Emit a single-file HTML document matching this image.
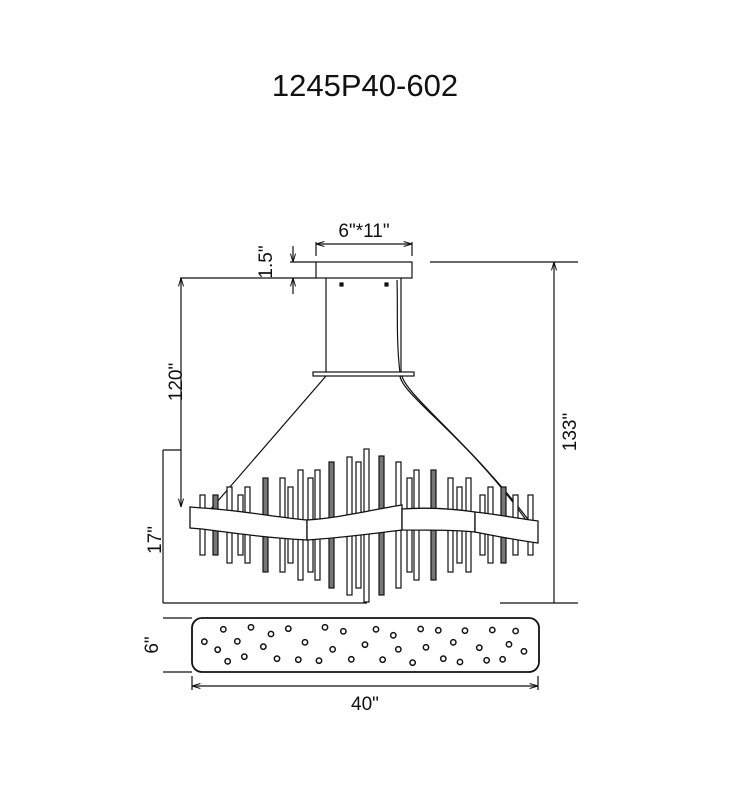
<!DOCTYPE html>
<html><head><meta charset="utf-8"><style>
html,body{margin:0;padding:0;background:#fff;}
svg{display:block;}
text{font-family:"Liberation Sans",Arial,sans-serif;fill:#111;}
</style></head><body>
<svg width="730" height="800" viewBox="0 0 730 800" xmlns="http://www.w3.org/2000/svg">
<defs>
<marker id="a" viewBox="0 0 10 10" refX="10" refY="5" markerWidth="7" markerHeight="7" orient="auto-start-reverse"><path d="M0,2 L10,5 L0,8" fill="none" stroke="#111" stroke-width="1.2"/></marker>
</defs>
<text x="365" y="96" font-size="31" text-anchor="middle">1245P40-602</text>

<g stroke="#111" stroke-width="1.2" fill="none">
<rect x="316" y="262" width="96" height="16" fill="#fff"/>
<rect x="340" y="283" width="3" height="3" fill="#111"/>
<rect x="385" y="283" width="3" height="3" fill="#111"/>
<line x1="326" y1="278" x2="326" y2="373"/>
<line x1="401" y1="278" x2="401" y2="373"/>
<path d="M397,280 C398,310 396,340 400,373" />
<rect x="313" y="372" width="101" height="4" fill="#fff"/>
<line x1="326" y1="376" x2="210" y2="510"/>
<path d="M400,376 C402,395 470,440 526,520"/>
<path d="M402,376 C406,395 472,445 530,522"/>

<line x1="316" y1="242" x2="316" y2="256"/>
<line x1="412" y1="242" x2="412" y2="256"/>
<line x1="316" y1="244" x2="412" y2="244" marker-start="url(#a)" marker-end="url(#a)"/>
<line x1="290" y1="262" x2="316" y2="262"/>
<line x1="293" y1="246" x2="293" y2="262" marker-end="url(#a)"/>
<line x1="293" y1="294" x2="293" y2="278" marker-end="url(#a)"/>
<line x1="180" y1="278" x2="316" y2="278"/>
<line x1="430" y1="262" x2="578" y2="262"/>
<line x1="554" y1="603" x2="554" y2="262" marker-end="url(#a)"/>
<line x1="181" y1="278" x2="181" y2="507" marker-start="url(#a)" marker-end="url(#a)"/>
<line x1="163" y1="450" x2="181" y2="450"/>
<line x1="163" y1="450" x2="163" y2="603"/>
<line x1="163" y1="603" x2="367" y2="603"/>
<line x1="500" y1="603" x2="578" y2="603"/>
</g>
<text transform="translate(272,262) rotate(-90)" font-size="19" text-anchor="middle">1.5"</text>
<text x="364" y="237" font-size="19" text-anchor="middle">6"*11"</text>
<text transform="translate(182,382) rotate(-90)" font-size="19" text-anchor="middle">120"</text>
<text transform="translate(576,432) rotate(-90)" font-size="19" text-anchor="middle">133"</text>
<text transform="translate(161,540) rotate(-90)" font-size="19" text-anchor="middle">17"</text>

<g stroke="#111" stroke-width="1.2" fill="#fff">
<rect x="200" y="495" width="5" height="60"/>
<rect x="213" y="495" width="5" height="60" fill="#777"/>
<rect x="227" y="487" width="5" height="76"/>
<rect x="238" y="495" width="5" height="60"/>
<rect x="245" y="487" width="5" height="76"/>
<rect x="263" y="478" width="5" height="94" fill="#777"/>
<rect x="280" y="478" width="5" height="94"/>
<rect x="288" y="487" width="5" height="76"/>
<rect x="298" y="470" width="5" height="110"/>
<rect x="308" y="478" width="5" height="94"/>
<rect x="315" y="470" width="5" height="110"/>
<rect x="329" y="462" width="5" height="126" fill="#777"/>
<rect x="347" y="457" width="5" height="138"/>
<rect x="356" y="462" width="5" height="126"/>
<rect x="364" y="449" width="5" height="153"/>
<rect x="379" y="456" width="5" height="139" fill="#777"/>
<rect x="396" y="462" width="5" height="126"/>
<rect x="407" y="478" width="5" height="94"/>
<rect x="414" y="470" width="5" height="110"/>
<rect x="431" y="470" width="5" height="110" fill="#777"/>
<rect x="448" y="478" width="5" height="94"/>
<rect x="457" y="487" width="5" height="76"/>
<rect x="466" y="478" width="5" height="94"/>
<rect x="480" y="495" width="5" height="60"/>
<rect x="488" y="487" width="5" height="76"/>
<rect x="501" y="487" width="5" height="76" fill="#777"/>
<rect x="513" y="495" width="5" height="60"/>
<rect x="528" y="495" width="5" height="60"/>
</g>
<g stroke="#111" stroke-width="1.3" fill="#fff">
<path d="M190,507 L202,508 C240,510 280,518 307,520 L307,540 C270,538 240,534 202,529 L190,528 Z"/>
<path d="M307,520 C340,518 370,510 402,505 L402,530 C370,534 340,538 307,540 Z"/>
<path d="M402,509 C430,507 455,509 475,512 L475,532 C455,530 430,530 402,530 Z"/>
<path d="M475,512 C495,514 515,518 538,521 L538,543 C515,540 495,536 475,532 Z"/>
</g>

<g stroke="#111" stroke-width="1.2" fill="none">
<rect x="192" y="618" width="347" height="54" rx="10" stroke-width="1.8"/>
<line x1="163" y1="618" x2="192" y2="618"/>
<line x1="163" y1="672" x2="192" y2="672"/>
<line x1="192" y1="676" x2="192" y2="690"/>
<line x1="538" y1="676" x2="538" y2="690"/>
<line x1="192" y1="686" x2="538" y2="686" marker-start="url(#a)" marker-end="url(#a)"/>
</g>
<text transform="translate(158,645) rotate(-90)" font-size="19" text-anchor="middle">6"</text>
<text x="365" y="710" font-size="19" text-anchor="middle">40"</text>
<g transform="translate(180,610) scale(0.3333)" stroke="#111" stroke-width="4.5" fill="none">
<circle cx="130" cy="58" r="8"/><circle cx="213" cy="52" r="8"/><circle cx="273" cy="72" r="8"/><circle cx="325" cy="56" r="8"/><circle cx="435" cy="52" r="8"/><circle cx="490" cy="64" r="8"/><circle cx="588" cy="58" r="8"/><circle cx="640" cy="76" r="8"/><circle cx="722" cy="57" r="8"/><circle cx="775" cy="61" r="8"/><circle cx="855" cy="62" r="8"/><circle cx="937" cy="60" r="8"/><circle cx="1007" cy="63" r="8"/>
<circle cx="73" cy="95" r="8"/><circle cx="172" cy="94" r="8"/><circle cx="375" cy="97" r="8"/><circle cx="555" cy="104" r="8"/><circle cx="820" cy="97" r="8"/><circle cx="987" cy="103" r="8"/>
<circle cx="113" cy="119" r="8"/><circle cx="250" cy="110" r="8"/><circle cx="458" cy="118" r="8"/><circle cx="655" cy="118" r="8"/><circle cx="738" cy="112" r="8"/><circle cx="898" cy="113" r="8"/><circle cx="1032" cy="124" r="8"/>
<circle cx="143" cy="154" r="8"/><circle cx="193" cy="140" r="8"/><circle cx="291" cy="146" r="8"/><circle cx="355" cy="149" r="8"/><circle cx="417" cy="152" r="8"/><circle cx="514" cy="148" r="8"/><circle cx="608" cy="149" r="8"/><circle cx="698" cy="158" r="8"/><circle cx="790" cy="146" r="8"/><circle cx="840" cy="156" r="8"/><circle cx="920" cy="151" r="8"/><circle cx="968" cy="148" r="8"/>
</g>
</svg>
</body></html>
